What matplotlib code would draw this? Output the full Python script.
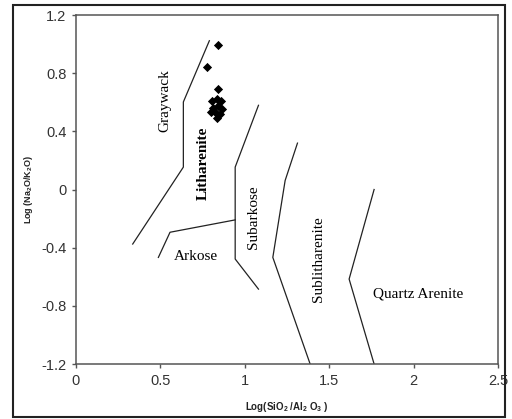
import matplotlib
matplotlib.use("Agg")
import matplotlib.pyplot as plt
from matplotlib.patches import Rectangle

# boundary lines of the classification fields (Log SiO2/Al2O3, Log Na2O/K2O)
graywack_x    = [0.336, 0.636, 0.636, 0.790]
graywack_y    = [-0.375, 0.154, 0.602, 1.023]
arkose_x      = [0.488, 0.557, 0.943]
arkose_y      = [-0.467, -0.294, -0.209]
subarkose_x   = [1.081, 0.943, 0.943, 1.081]
subarkose_y   = [0.579, 0.154, -0.478, -0.685]
sublith_x     = [1.312, 1.239, 1.166, 1.387]
sublith_y     = [0.319, 0.062, -0.467, -1.2]
quartz_x      = [1.766, 1.618, 1.766]
quartz_y      = [0.0, -0.616, -1.2]

# samples
sample_x = [0.840, 0.778, 0.840, 0.834, 0.804, 0.860, 0.812, 0.842, 0.865, 0.800, 0.830, 0.854, 0.834]
sample_y = [0.993, 0.839, 0.688, 0.621, 0.607, 0.607, 0.559, 0.572, 0.552, 0.531, 0.524, 0.517, 0.490]

x_ticks = [0, 0.5, 1, 1.5, 2, 2.5]
y_ticks = [-1.2, -0.8, -0.4, 0, 0.4, 0.8, 1.2]

plt.rcParams['font.family'] = ['Liberation Sans', 'DejaVu Sans']
plt.rcParams['mathtext.fontset'] = 'custom'
plt.rcParams['mathtext.rm'] = 'Liberation Sans:bold'
plt.rcParams['mathtext.bf'] = 'Liberation Sans:bold'

fig = plt.figure(figsize=(5.12, 4.19), dpi=100)
ax = fig.add_axes([76/512, 1 - 364/419, 422/512, 349/419])

line_kw = dict(color='#222222', linewidth=0.9)
ax.plot(graywack_x, graywack_y, **line_kw)
ax.plot(arkose_x, arkose_y, **line_kw)
ax.plot(subarkose_x, subarkose_y, **line_kw)
ax.plot(sublith_x, sublith_y, **line_kw)
ax.plot(quartz_x, quartz_y, **line_kw)

ax.scatter(sample_x, sample_y, marker='D', s=22, color='black', zorder=5, linewidths=0)

serif = ['Liberation Serif', 'DejaVu Serif']
ax.text(0.528, 0.614, 'Graywack', rotation=90, ha='center', va='center', fontsize=11, family=serif)
ax.text(0.755, 0.177, 'Litharenite', rotation=90, ha='center', va='center', fontsize=11, family=serif, fontweight='bold')
ax.text(1.051, -0.191, 'Subarkose', rotation=90, ha='center', va='center', fontsize=11, family=serif)
ax.text(0.711, -0.462, 'Arkose', ha='center', va='center', fontsize=11, family=serif)
ax.text(1.436, -0.478, 'Sublitharenite', rotation=90, ha='center', va='center', fontsize=11, family=serif)
ax.text(2.029, -0.719, 'Quartz Arenite', ha='center', va='center', fontsize=11, family=serif)

ax.set_xlim(0, 2.5)
ax.set_ylim(-1.2, 1.2)
ax.set_xticks(x_ticks)
ax.set_xticklabels(['0', '0.5', '1', '1.5', '2', '2.5'])
ax.set_yticks(y_ticks)
ax.set_yticklabels(['-1.2', '-0.8', '-0.4', '0', '0.4', '0.8', '1.2'])
ax.tick_params(direction='out', length=3, width=1, color='#555555', labelsize=10.5, labelcolor='#333333', pad=4)
for sp in ax.spines.values():
    sp.set_color('#555555')
    sp.set_linewidth(1.1)

ax.set_xlabel(r'Log(SiO$_2$ /Al$_2$ O$_3$ )', fontsize=7, fontweight='bold', color='#222222', labelpad=9)
ax.set_ylabel(r'Log (Na$_2$O/K$_2$O)', fontsize=6.5, fontweight='bold', color='#222222', labelpad=4)

# outer frame of the figure
fig.patches.append(Rectangle((13/512, 2/419), 492/512, 412/419, transform=fig.transFigure,
                             fill=False, edgecolor='#222222', linewidth=1.5))

fig.savefig('out.png', dpi=100)
